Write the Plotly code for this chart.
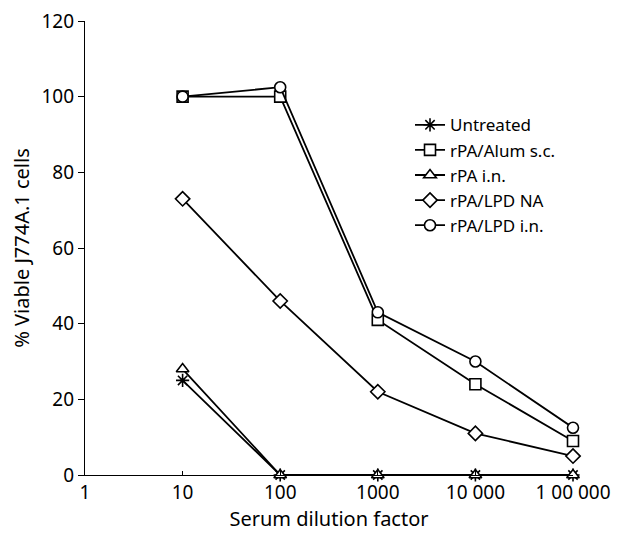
import plotly.graph_objects as go

dilutions = [10, 100, 1000, 10000, 100000]
untreated = [25, 0, 0, 0, 0]
alum_sc = [100, 100, 41, 24, 9]
rpa_in = [28, 0, 0, 0, 0]
lpd_na = [73, 46, 22, 11, 5]
lpd_in = [100, 102.5, 43, 30, 12.5]

x_tickvals = [1, 10, 100, 1000, 10000, 100000]
x_ticktext = ["1", "10", "100", "1000", "10 000", "1 00 000"]
y_tickvals = [0, 20, 40, 60, 80, 100, 120]

series = [
    ("Untreated", untreated, "asterisk-open"),
    ("rPA/Alum s.c.", alum_sc, "square"),
    ("rPA i.n.", rpa_in, "triangle-up"),
    ("rPA/LPD NA", lpd_na, "diamond"),
    ("rPA/LPD i.n.", lpd_in, "circle"),
]

FONT = "Noto Sans"
fig = go.Figure()
for name, vals, sym in series:
    is_star = sym == "asterisk-open"
    fig.add_trace(go.Scatter(
        x=dilutions, y=vals, name=name, mode="lines+markers",
        line=dict(color="black", width=1.8),
        marker=dict(symbol=sym, size=11,
                    color="black" if is_star else "white",
                    line=dict(color="black", width=1.6)),
        cliponaxis=False,
    ))

fig.update_layout(
    width=625, height=535,
    margin=dict(l=77, r=60, t=13, b=68),
    paper_bgcolor="white", plot_bgcolor="white",
    font=dict(family=FONT, size=19, color="black"),
    showlegend=True,
    legend=dict(x=0.666, y=0.81, xanchor="left", yanchor="top",
                bgcolor="rgba(0,0,0,0)", font=dict(size=17),
                tracegroupgap=0),
    xaxis=dict(type="log", range=[0, 5], tickvals=x_tickvals, ticktext=x_ticktext,
               showline=True, linecolor="black", linewidth=1.3,
               ticks="inside", ticklen=4, tickcolor="black", automargin=False,
               ticklabeloverflow="allow",
               showgrid=False, zeroline=False, tickfont=dict(size=19),
               title=dict(text="Serum dilution factor", standoff=2, font=dict(size=20))),
    yaxis=dict(range=[0, 120], tickvals=y_tickvals, automargin=False,
               ticklabeloverflow="allow",
               showline=True, linecolor="black", linewidth=1.3,
               ticks="outside", ticklen=6, tickcolor="black",
               showgrid=False, zeroline=False, tickfont=dict(size=19),
               title=dict(text="% Viable J774A.1 cells", standoff=8, font=dict(size=20))),
)

fig.write_html("out.html")
